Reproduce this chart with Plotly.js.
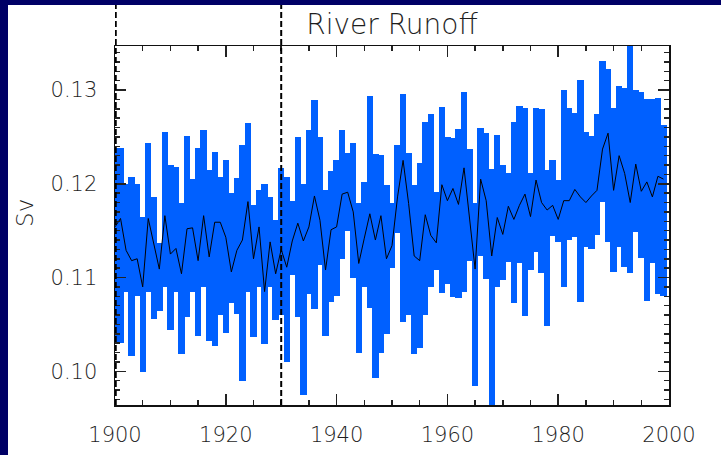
<!DOCTYPE html>
<html>
<head>
<meta charset="utf-8">
<script src="https://cdn.plot.ly/plotly-3.0.1.min.js"></script>
<style>
  html, body { margin: 0; padding: 0; background: #000066; width: 721px; height: 455px; overflow: hidden; }
  #chart { position: absolute; left: 8px; top: 5px; width: 713px; height: 450px; background: #ffffff; }
</style>
</head>
<body>
<div id="chart"></div>
<script>
const years = [
  1900,1901,1902,1903,1904,1905,1906,1907,1908,1909,
  1910,1911,1912,1913,1914,1915,1916,1917,1918,1919,
  1920,1921,1922,1923,1924,1925,1926,1927,1928,1929,
  1930,1931,1932,1933,1934,1935,1936,1937,1938,1939,
  1940,1941,1942,1943,1944,1945,1946,1947,1948,1949,
  1950,1951,1952,1953,1954,1955,1956,1957,1958,1959,
  1960,1961,1962,1963,1964,1965,1966,1967,1968,1969,
  1970,1971,1972,1973,1974,1975,1976,1977,1978,1979,
  1980,1981,1982,1983,1984,1985,1986,1987,1988,1989,
  1990,1991,1992,1993,1994,1995,1996,1997,1998,1999
];
const runoffMax = [
  0.1238,0.1238,0.1200,0.1207,0.1200,0.1165,0.1243,0.1186,0.1137,0.1255,
  0.1220,0.1218,0.1179,0.1251,0.1205,0.1238,0.1257,0.1215,0.1234,0.1207,
  0.1225,0.1190,0.1206,0.1241,0.1265,0.1177,0.1193,0.1200,0.1186,0.1161,
  0.1217,0.1207,0.1182,0.1250,0.1200,0.1257,0.1289,0.1250,0.1193,0.1214,
  0.1225,0.1257,0.1233,0.1244,0.1179,0.1202,0.1294,0.1232,0.1231,0.1199,
  0.1179,0.1241,0.1296,0.1233,0.1199,0.1222,0.1266,0.1274,0.1191,0.1282,
  0.1250,0.1249,0.1258,0.1298,0.1237,0.1179,0.1259,0.1254,0.1216,0.1252,
  0.1220,0.1211,0.1266,0.1283,0.1281,0.1211,0.1281,0.1280,0.1215,0.1225,
  0.1204,0.1300,0.1281,0.1276,0.1311,0.1255,0.1251,0.1274,0.1331,0.1323,
  0.1281,0.1304,0.1302,0.1350,0.1300,0.1298,0.1290,0.1290,0.1292,0.1263
];
const runoffMin = [
  0.1030,0.1030,0.1085,0.1016,0.1080,0.0999,0.1085,0.1056,0.1064,0.1090,
  0.1044,0.1085,0.1018,0.1058,0.1085,0.1038,0.1090,0.1032,0.1027,0.1060,
  0.1041,0.1073,0.1061,0.0990,0.1085,0.1037,0.1090,0.1029,0.1090,0.1055,
  0.1060,0.1010,0.1103,0.1058,0.0975,0.1082,0.1066,0.1113,0.1038,0.1074,
  0.1080,0.1120,0.1150,0.1100,0.1020,0.1090,0.1067,0.0993,0.1020,0.1040,
  0.1110,0.1147,0.1053,0.1060,0.1018,0.1025,0.1060,0.1090,0.1108,0.1083,
  0.1093,0.1079,0.1078,0.1085,0.1118,0.0984,0.1123,0.1098,0.0960,0.1090,
  0.1097,0.1117,0.1073,0.1116,0.1059,0.1108,0.1127,0.1105,0.1048,0.1144,
  0.1138,0.1090,0.1140,0.1143,0.1074,0.1133,0.1130,0.1145,0.1181,0.1138,
  0.1106,0.1133,0.1111,0.1105,0.1149,0.1121,0.1075,0.1116,0.1082,0.1080
];
const runoffMean = [
  0.1154,0.1163,0.1129,0.1118,0.1120,0.1090,0.1163,0.1136,0.1109,0.1166,
  0.1125,0.1131,0.1104,0.1152,0.1153,0.1118,0.1166,0.1122,0.1159,0.1159,
  0.1143,0.1106,0.1129,0.1140,0.1181,0.1120,0.1154,0.1085,0.1138,0.1104,
  0.1130,0.1111,0.1139,0.1158,0.1139,0.1154,0.1187,0.1161,0.1108,0.1151,
  0.1154,0.1189,0.1191,0.1170,0.1115,0.1142,0.1168,0.1140,0.1166,0.1120,
  0.1134,0.1186,0.1225,0.1179,0.1123,0.1118,0.1167,0.1145,0.1137,0.1199,
  0.1182,0.1195,0.1178,0.1217,0.1160,0.1109,0.1205,0.1182,0.1123,0.1164,
  0.1146,0.1176,0.1162,0.1177,0.1189,0.1165,0.1204,0.1180,0.1172,0.1177,
  0.1162,0.1182,0.1182,0.1194,0.1186,0.1180,0.1187,0.1193,0.1237,0.1254,
  0.1193,0.1230,0.1211,0.1180,0.1221,0.1192,0.1202,0.1186,0.1208,0.1205
];
const xTickVals = [1900, 1920, 1940, 1960, 1980, 2000];
const xTickText = ['1900', '1920', '1940', '1960', '1980', '2000'];
const yTickVals = [0.10, 0.11, 0.12, 0.13];
const yTickText = ['0.10', '0.11', '0.12', '0.13'];
const markerYears = [1900, 1930];
const markerWidths = [3.5, 2];
const titleText = 'River Runoff';
const yLabel = 'Sv';

const spans = runoffMax.map((v, i) => v - runoffMin[i]);

const FONT = 'DejaVu Sans, sans-serif';
const TXT = '#1e1e1e';
const W = 200;

const traces = [
  {
    type: 'bar',
    x: years,
    y: spans,
    base: runoffMin,
    width: 1.15,
    marker: { color: '#0060FF', line: { width: 0 } },
    hoverinfo: 'skip',
    showlegend: false
  },
  {
    type: 'scatter',
    mode: 'lines',
    x: years,
    y: runoffMean,
    line: { color: '#000000', width: 1 },
    hoverinfo: 'skip',
    showlegend: false
  }
];

const shapes = markerYears.map((yr, k) => ({
  type: 'line',
  xref: 'x', yref: 'paper',
  x0: yr, x1: yr, y0: 0, y1: 1.115,
  line: { color: '#000000', width: markerWidths[k], dash: '6px,3px' },
  layer: 'above'
}));

const layout = {
  width: 713,
  height: 450,
  margin: { l: 107, r: 52, t: 41, b: 50, pad: 0 },
  paper_bgcolor: '#ffffff',
  plot_bgcolor: '#ffffff',
  barmode: 'overlay',
  bargap: 0,
  title: {
    text: titleText,
    font: { family: FONT, size: 28, color: TXT, weight: W },
    x: 0.5, xref: 'paper', xanchor: 'center',
    y: 0.958, yref: 'container', yanchor: 'middle'
  },
  xaxis: {
    range: [1900, 2000],
    tickvals: xTickVals,
    ticktext: xTickText,
    ticks: 'inside',
    ticklen: 11,
    tickwidth: 1.5,
    tickcolor: '#222',
    showline: true,
    linecolor: '#111',
    linewidth: 1.5,
    mirror: 'ticks',
    showgrid: false,
    zeroline: false,
    ticklabelstandoff: 10,
    tickfont: { family: FONT, size: 21, color: TXT, weight: W },
    minor: { dtick: 5, ticks: 'inside', ticklen: 5, tickwidth: 1.5, tickcolor: '#222', showgrid: false }
  },
  yaxis: {
    range: [0.0964, 0.1347],
    tickvals: yTickVals,
    ticktext: yTickText,
    ticks: 'inside',
    ticklen: 11,
    tickwidth: 1.5,
    tickcolor: '#222',
    showline: true,
    linecolor: '#111',
    linewidth: 1.5,
    mirror: 'ticks',
    showgrid: false,
    zeroline: false,
    ticklabelstandoff: 12,
    tickfont: { family: FONT, size: 21, color: TXT, weight: W },
    minor: { dtick: 0.001, ticks: 'inside', ticklen: 5, tickwidth: 1.5, tickcolor: '#222', showgrid: false }
  },
  annotations: [
    {
      text: yLabel,
      xref: 'paper', yref: 'paper',
      x: -0.1625, y: 0.535,
      xanchor: 'center', yanchor: 'middle',
      textangle: -90,
      showarrow: false,
      font: { family: FONT, size: 23, color: TXT, weight: W }
    }
  ],
  shapes: shapes
};

Plotly.newPlot('chart', traces, layout, { displayModeBar: false, staticPlot: true });
</script>
</body>
</html>
